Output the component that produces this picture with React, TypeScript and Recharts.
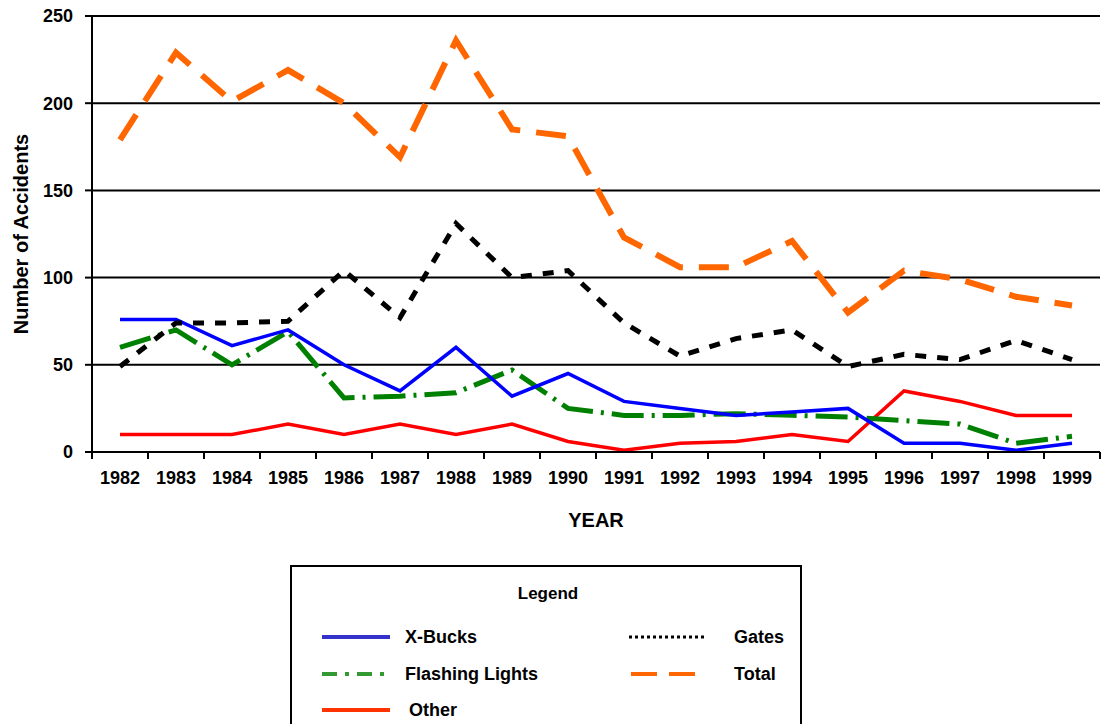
import React from 'react';
import { CartesianGrid, Label, Line, LineChart, XAxis, YAxis } from 'recharts';

const years = [
  '1982', '1983', '1984', '1985', '1986', '1987', '1988', '1989', '1990',
  '1991', '1992', '1993', '1994', '1995', '1996', '1997', '1998', '1999',
];
const xBucks = [76, 76, 61, 70, 50, 35, 60, 32, 45, 29, 25, 21, 23, 25, 5, 5, 1, 5];
const flashingLights = [60, 70, 50, 69, 31, 32, 34, 47, 25, 21, 21, 22, 21, 20, 18, 16, 5, 9];
const other = [10, 10, 10, 16, 10, 16, 10, 16, 6, 1, 5, 6, 10, 6, 35, 29, 21, 21];
const gates = [49, 74, 74, 75, 104, 77, 131, 100, 104, 74, 55, 65, 70, 49, 56, 53, 64, 53];
const total = [179, 229, 201, 219, 200, 169, 236, 185, 181, 123, 106, 106, 121, 80, 104, 99, 89, 84];
const yTicks = [0, 50, 100, 150, 200, 250];

const data = years.map((year, i) => ({
  year,
  xBucks: xBucks[i],
  flashingLights: flashingLights[i],
  other: other[i],
  gates: gates[i],
  total: total[i],
}));

const FONT = 'Arial, "Liberation Sans", Helvetica, sans-serif';
const HALF_BAND = 28;

const XTick = (props: any) => {
  const { x, y, payload, index } = props;
  return (
    <g>
      <line x1={x - HALF_BAND} y1={y} x2={x - HALF_BAND} y2={y + 7} stroke="#000" strokeWidth={2} />
      {index === years.length - 1 && (
        <line x1={x + HALF_BAND} y1={y} x2={x + HALF_BAND} y2={y + 7} stroke="#000" strokeWidth={2} />
      )}
      <text
        x={x}
        y={y + 32}
        textAnchor="middle"
        fontFamily={FONT}
        fontWeight="bold"
        fontSize={18}
        fill="#000"
      >
        {payload.value}
      </text>
    </g>
  );
};

const legendRows = [
  { name: 'X-Bucks', color: '#3333cc', dash: undefined, width: 4, x: 30, lineW: 68, tx: 113, y: 70 },
  { name: 'Flashing Lights', color: '#339933', dash: '15 8 4 8', width: 4, x: 30, lineW: 68, tx: 113, y: 107 },
  { name: 'Other', color: '#ff3300', dash: undefined, width: 4, x: 30, lineW: 68, tx: 117, y: 143 },
  { name: 'Gates', color: '#000000', dash: '3 3', width: 3, x: 337, lineW: 76, tx: 442, y: 70 },
  { name: 'Total', color: '#ff6600', dash: '26 12', width: 4, x: 339, lineW: 64, tx: 442, y: 107 },
];

const ChartLegend = () => (
  <div
    style={{
      position: 'absolute',
      left: 290,
      top: 565,
      width: 512,
      height: 200,
      border: '2px solid #000',
      boxSizing: 'border-box',
      fontFamily: FONT,
      fontWeight: 'bold',
      background: '#fff',
    }}
  >
    <svg width={508} height={196} style={{ position: 'absolute', left: 0, top: 0 }}>
      <text x={256} y={32} textAnchor="middle" fontSize={17} fontFamily={FONT} fontWeight="bold">
        Legend
      </text>
      {legendRows.map((r) => (
        <g key={r.name}>
          <line
            x1={r.x}
            y1={r.y}
            x2={r.x + r.lineW}
            y2={r.y}
            stroke={r.color}
            strokeWidth={r.width}
            strokeDasharray={r.dash}
          />
          <text x={r.tx} y={r.y + 6} fontSize={18} fontFamily={FONT} fontWeight="bold">
            {r.name}
          </text>
        </g>
      ))}
    </svg>
  </div>
);

export default function App() {
  return (
    <div style={{ position: 'absolute', left: 0, top: 0, width: 1101, height: 724, background: '#fff' }}>
      <LineChart
        width={1101}
        height={724}
        data={data}
        margin={{ top: 16, right: 1, left: 0, bottom: 192 }}
      >
        <CartesianGrid yAxisId="l" vertical={false} stroke="#000" strokeWidth={2} />
        <XAxis
          dataKey="year"
          scale="band"
          height={80}
          tickSize={0}
          tickMargin={0}
          tick={<XTick />}
          tickLine={false}
          axisLine={{ stroke: '#000', strokeWidth: 2 }}
          interval={0}
        >
          <Label
            content={() => (
              <text
                x={596}
                y={527}
                textAnchor="middle"
                fontFamily={FONT}
                fontWeight="bold"
                fontSize={20}
                fill="#000"
              >
                YEAR
              </text>
            )}
          />
        </XAxis>
        <YAxis
          yAxisId="l"
          width={92}
          domain={[0, 250]}
          ticks={yTicks}
          tickSize={7}
          tickMargin={12}
          tick={{ fill: '#000', fontSize: 18, fontWeight: 'bold', fontFamily: FONT }}
          tickLine={{ stroke: '#000', strokeWidth: 2 }}
          axisLine={{ stroke: '#000', strokeWidth: 2 }}
        >
          <Label
            content={() => (
              <text
                x={28}
                y={234}
                transform="rotate(-90 28 234)"
                textAnchor="middle"
                fontFamily={FONT}
                fontWeight="bold"
                fontSize={20}
                fill="#000"
              >
                Number of Accidents
              </text>
            )}
          />
        </YAxis>
        <YAxis
          yAxisId="r"
          orientation="right"
          width={0}
          domain={[0, 250]}
          tick={false}
          tickLine={false}
          axisLine={{ stroke: '#000', strokeWidth: 2 }}
        />
        <Line
          yAxisId="l"
          dataKey="other"
          stroke="#ff0000"
          strokeWidth={3.5}
          dot={false}
          type="linear"
          isAnimationActive={false}
        />
        <Line
          yAxisId="l"
          dataKey="flashingLights"
          stroke="#008000"
          strokeWidth={5}
          strokeDasharray="32 8 3 8"
          dot={false}
          type="linear"
          isAnimationActive={false}
        />
        <Line
          yAxisId="l"
          dataKey="xBucks"
          stroke="#0000ff"
          strokeWidth={3.5}
          dot={false}
          type="linear"
          isAnimationActive={false}
        />
        <Line
          yAxisId="l"
          dataKey="gates"
          stroke="#000000"
          strokeWidth={5}
          strokeDasharray="11 11"
          dot={false}
          type="linear"
          isAnimationActive={false}
        />
        <Line
          yAxisId="l"
          dataKey="total"
          stroke="#ff6600"
          strokeWidth={6}
          strokeDasharray="30 16"
          dot={false}
          type="linear"
          isAnimationActive={false}
        />
      </LineChart>
      <ChartLegend />
    </div>
  );
}
